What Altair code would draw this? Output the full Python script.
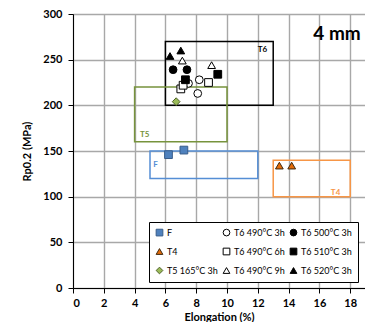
import altair as alt
import pandas as pd

FONT = "Lato"

# --- data ---
series_names = ["F", "T4", "T5 165°C 3h", "T6 490°C 3h", "T6 490°C 6h",
                "T6 490°C 9h", "T6 500°C 3h", "T6 510°C 3h", "T6 520°C 3h"]
f_x = [6.2, 7.2]
f_y = [146, 151]
t4_x = [13.4, 14.2]
t4_y = [134, 134]
t5_x = [6.7]
t5_y = [204]
t6_490_3_x = [7.5, 8.2, 8.1]
t6_490_3_y = [224, 228, 213]
t6_490_6_x = [7.0, 7.15, 8.8]
t6_490_6_y = [218, 222, 225]
t6_490_9_x = [7.1, 9.0]
t6_490_9_y = [249, 244]
t6_500_3_x = [6.5, 7.4]
t6_500_3_y = [239, 239]
t6_510_3_x = [7.3, 9.4]
t6_510_3_y = [228, 234]
t6_520_3_x = [6.3, 7.0]
t6_520_3_y = [254, 260]

xs = [f_x, t4_x, t5_x, t6_490_3_x, t6_490_6_x, t6_490_9_x, t6_500_3_x, t6_510_3_x, t6_520_3_x]
ys = [f_y, t4_y, t5_y, t6_490_3_y, t6_490_6_y, t6_490_9_y, t6_500_3_y, t6_510_3_y, t6_520_3_y]

# boxes (label, x0, x1, y0, y1)
box_labels = ["T6", "T5", "F", "T4"]
box_x0 = [6, 4, 5, 13]
box_x1 = [13, 10, 12, 18]
box_y0 = [200, 160, 120, 100]
box_y1 = [270, 220, 150, 140]
box_colors = ["#000000", "#77933C", "#558ED5", "#F79646"]
box_label_x = [12.3, 4.65, 5.35, 17.05]
box_label_y = [261, 168, 135, 104.5]

x_ticks = list(range(0, 21, 2))
y_ticks = list(range(0, 301, 50))

rows = []
for name, xv, yv in zip(series_names, xs, ys):
    for a, b in zip(xv, yv):
        rows.append({"series": name, "elong": a, "rp": b})
pts = pd.DataFrame(rows)

boxes = pd.DataFrame({"label": box_labels, "x0": box_x0, "x1": box_x1,
                      "y0": box_y0, "y1": box_y1, "color": box_colors,
                      "lx": box_label_x, "ly": box_label_y})

shape_map = {"F": "square", "T4": "triangle-up", "T5 165°C 3h": "diamond",
             "T6 490°C 3h": "circle", "T6 490°C 6h": "square", "T6 490°C 9h": "triangle-up",
             "T6 500°C 3h": "circle", "T6 510°C 3h": "square", "T6 520°C 3h": "triangle-up"}
fill_map = {"F": "#4F81BD", "T4": "#E46C0A", "T5 165°C 3h": "#9BBB59",
            "T6 490°C 3h": "#FFFFFF", "T6 490°C 6h": "#FFFFFF", "T6 490°C 9h": "#FFFFFF",
            "T6 500°C 3h": "#000000", "T6 510°C 3h": "#000000", "T6 520°C 3h": "#000000"}
stroke_map = {"F": "#385D8A", "T4": "#3F2A10", "T5 165°C 3h": "#4F6228",
              "T6 490°C 3h": "#000000", "T6 490°C 6h": "#000000", "T6 490°C 9h": "#000000",
              "T6 500°C 3h": "#000000", "T6 510°C 3h": "#000000", "T6 520°C 3h": "#000000"}

leg = alt.Legend(title=None, orient="none", legendX=76, legendY=208, columns=3,
                 strokeColor="#000000", padding=6, rowPadding=8, columnPadding=3,
                 labelFont=FONT, labelFontSize=9, labelColor="#000000",
                 symbolSize=45, symbolStrokeWidth=1, fillColor="#FFFFFF", labelOffset=3)

# plot area shows 0 .. ~19 (the reference crops the right edge)
xscale = alt.Scale(domain=[0, 18.96], nice=False, zero=False)
yscale = alt.Scale(domain=[0, 300], nice=False)

xaxis = alt.Axis(title="Elongation (%)", values=x_ticks, grid=True, labelOverlap=False,
                 gridColor="#A8A8A8", gridWidth=1.4, domainColor="#000000", tickColor="#000000",
                 tickSize=5, labelFont=FONT, labelFontSize=11, labelFontWeight="bold",
                 labelColor="#000000", labelPadding=4, titleFont=FONT, titleFontSize=11,
                 titleFontWeight="bold", titleColor="#000000", titlePadding=3)
yaxis = alt.Axis(title="Rp0.2 (MPa)", values=y_ticks, grid=True, labelOverlap=False,
                 gridColor="#A8A8A8", gridWidth=1.4, domainColor="#000000", tickColor="#000000",
                 tickSize=5, labelFont=FONT, labelFontSize=11, labelFontWeight="bold",
                 labelColor="#000000", labelPadding=6, titleFont=FONT, titleFontSize=11,
                 titleFontWeight="bold", titleColor="#000000", titlePadding=10)

X = lambda f: alt.X(f, scale=xscale, axis=xaxis)
Y = lambda f: alt.Y(f, scale=yscale, axis=yaxis)

rects = alt.Chart(boxes).mark_rect(fill=None, strokeWidth=1.5).encode(
    x=X("x0:Q"), x2="x1:Q",
    y=Y("y0:Q"), y2="y1:Q",
    stroke=alt.Stroke("color:N", scale=None),
)

labels = alt.Chart(boxes).mark_text(font=FONT, fontSize=8, fontWeight="bold").encode(
    x=X("lx:Q"), y=Y("ly:Q"),
    text="label:N", color=alt.Color("color:N", scale=None),
)

points = alt.Chart(pts).mark_point(filled=True, opacity=1, strokeWidth=1, size=60).encode(
    x=X("elong:Q"),
    y=Y("rp:Q"),
    shape=alt.Shape("series:N", scale=alt.Scale(domain=series_names,
                    range=[shape_map[s] for s in series_names]), legend=leg),
    fill=alt.Fill("series:N", scale=alt.Scale(domain=series_names,
                  range=[fill_map[s] for s in series_names]), legend=leg),
    stroke=alt.Stroke("series:N", scale=alt.Scale(domain=series_names,
                      range=[stroke_map[s] for s in series_names]), legend=leg),
)

title_df = pd.DataFrame({"tx": [15.6], "ty": [271], "t": ["4 mm"]})
title = alt.Chart(title_df).mark_text(font=FONT, fontSize=19, fontWeight="bold",
                                      align="left", baseline="alphabetic", color="#000000").encode(
    x=X("tx:Q"), y=Y("ty:Q"), text="t:N")

chart = alt.layer(rects, labels, points, title).properties(
    width=292, height=274,
    autosize=alt.AutoSizeParams(type="none"),
    padding={"left": 65, "top": 6, "right": 0, "bottom": 34},
).configure_view(stroke=None).configure(background="#FFFFFF")

chart.save("out.html", embed_options={"renderer": "svg", "actions": False})
